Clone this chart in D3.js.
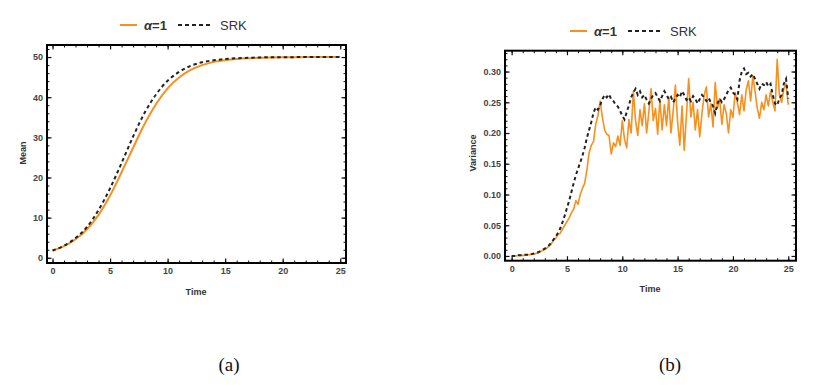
<!DOCTYPE html>
<html>
<head>
<meta charset="utf-8">
<script src="https://cdn.jsdelivr.net/npm/d3@7"></script>
<style>
  body { margin: 0; background: #fff; }
  svg { display: block; font-family: "Liberation Sans", Arial, sans-serif; }
  .tick text { font-weight: bold; fill: #444; font-size: 9px; }
</style>
</head>
<body>
<svg id="chart" width="828" height="385"></svg>
<script>
// mean, time step 1 from 0 to 25
const meanTimes = d3.range(0, 26, 1);
const meanAlpha = [1.8, 2.9, 4.6, 7.1, 10.7, 15.5, 21.3, 27.4, 33.3, 38.3, 42.2, 44.9, 46.8,
  48.0, 48.8, 49.2, 49.5, 49.7, 49.8, 49.9, 49.94, 49.96, 49.98, 49.99, 50, 50];
const meanSRK = [1.8, 3.0, 4.9, 7.7, 11.9, 17.3, 23.6, 30.2, 36.1, 40.7, 44.1, 46.3, 47.8,
  48.7, 49.2, 49.5, 49.7, 49.8, 49.9, 49.95, 49.97, 49.98, 49.99, 50, 50, 50];

// variance, time step 0.2 from 0 to 25
const varStep = 0.2;
const varAlpha = [
  0.000, 0.000, 0.000, 0.001, 0.001, 0.001, 0.001, 0.002, 0.002, 0.003,
  0.003, 0.004, 0.005, 0.007, 0.009, 0.011, 0.013, 0.016, 0.020, 0.026,
  0.029, 0.035, 0.037, 0.044, 0.050, 0.056, 0.062, 0.070, 0.076, 0.090,
  0.084, 0.100, 0.110, 0.118, 0.140, 0.168, 0.180, 0.186, 0.214, 0.228,
  0.252, 0.226, 0.205, 0.198, 0.196, 0.166, 0.184, 0.178, 0.195, 0.180,
  0.220, 0.190, 0.176, 0.222, 0.200, 0.268, 0.220, 0.196, 0.238, 0.212,
  0.248, 0.200, 0.234, 0.272, 0.220, 0.240, 0.198, 0.255, 0.205, 0.246,
  0.212, 0.258, 0.200, 0.236, 0.278, 0.218, 0.180, 0.244, 0.172, 0.230,
  0.288, 0.226, 0.250, 0.205, 0.238, 0.194, 0.232, 0.262, 0.275, 0.226,
  0.248, 0.210, 0.282, 0.240, 0.256, 0.214, 0.246, 0.232, 0.200, 0.238,
  0.225, 0.266, 0.250, 0.230, 0.262, 0.236, 0.270, 0.285, 0.252, 0.293,
  0.268, 0.240, 0.224, 0.250, 0.238, 0.262, 0.244, 0.268, 0.250, 0.236,
  0.320, 0.262, 0.250, 0.272, 0.280, 0.246];
const varSRK = [
  0.000, 0.000, 0.000, 0.001, 0.001, 0.001, 0.002, 0.002, 0.002, 0.003,
  0.004, 0.005, 0.006, 0.008, 0.010, 0.012, 0.015, 0.018, 0.022, 0.027,
  0.032, 0.038, 0.045, 0.055, 0.066, 0.078, 0.090, 0.104, 0.118, 0.131,
  0.142, 0.152, 0.163, 0.176, 0.192, 0.205, 0.218, 0.233, 0.242, 0.238,
  0.245, 0.255, 0.262, 0.258, 0.263, 0.255, 0.252, 0.246, 0.243, 0.236,
  0.228, 0.222, 0.234, 0.245, 0.258, 0.266, 0.272, 0.262, 0.268, 0.258,
  0.262, 0.254, 0.248, 0.256, 0.262, 0.265, 0.258, 0.252, 0.260, 0.268,
  0.262, 0.255, 0.259, 0.250, 0.256, 0.262, 0.258, 0.268, 0.262, 0.254,
  0.258, 0.252, 0.260, 0.256, 0.248, 0.255, 0.262, 0.258, 0.252, 0.257,
  0.250, 0.244, 0.232, 0.248, 0.256, 0.250, 0.255, 0.262, 0.270, 0.274,
  0.266, 0.262, 0.255, 0.285, 0.300, 0.305, 0.296, 0.298, 0.292, 0.296,
  0.288, 0.280, 0.272, 0.280, 0.278, 0.283, 0.276, 0.280, 0.262, 0.248,
  0.245, 0.256, 0.262, 0.280, 0.288, 0.256];

const xTicks = [0, 5, 10, 15, 20, 25];
const meanTicks = [0, 10, 20, 30, 40, 50];
const varTicks = [0, 0.05, 0.10, 0.15, 0.20, 0.25, 0.30];

const orange = "#f7901e";
const svg = d3.select("#chart");

function drawPanel(p) {
  const x = d3.scaleLinear().domain(p.xDomain).range([p.left, p.right]);
  const y = d3.scaleLinear().domain(p.yDomain).range([p.bottom, p.top]);
  const g = svg.append("g");

  // inward ticks, major and minor, on all four sides
  const sides = [
    [d3.axisBottom(x), p.bottom, true, "x"],
    [d3.axisTop(x), p.top, false, "x"],
    [d3.axisLeft(y), p.left, true, "y"],
    [d3.axisRight(y), p.right, false, "y"]
  ];
  sides.forEach(([ax, pos, labels, dim]) => {
    const major = dim === "x" ? xTicks : p.yTicks;
    const minor = dim === "x" ? d3.range(0, 26, 1) : p.yMinor;
    const tr = dim === "x" ? `translate(0,${pos})` : `translate(${pos},0)`;
    g.append("g").attr("transform", tr)
      .call(ax.tickValues(minor).tickSize(-2.5).tickFormat(""))
      .call(s => s.select(".domain").remove())
      .selectAll("line").attr("stroke", "#111");
    const ax2 = dim === "x" ? (pos === p.bottom ? d3.axisBottom(x) : d3.axisTop(x))
                            : (pos === p.left ? d3.axisLeft(y) : d3.axisRight(y));
    g.append("g").attr("transform", tr)
      .call(ax2.tickValues(major).tickSize(-4.5).tickPadding(dim === "x" ? 5 : 4)
        .tickFormat(labels ? (dim === "x" ? d3.format("d") : p.yFormat) : ""))
      .call(s => s.select(".domain").remove())
      .selectAll("line").attr("stroke", "#111").attr("stroke-width", 1.2);
  });

  const line = d3.line().x(d => x(d[0])).y(d => y(d[1])).curve(p.curve);
  g.append("path")
    .datum(p.alpha)
    .attr("fill", "none")
    .attr("stroke", orange)
    .attr("stroke-width", p.alphaWidth)
    .attr("stroke-linejoin", "round")
    .attr("d", line);
  g.append("path")
    .datum(p.srk)
    .attr("fill", "none")
    .attr("stroke", "#222")
    .attr("stroke-width", 2)
    .attr("stroke-dasharray", "3.5,3")
    .attr("d", line);

  g.append("rect")
    .attr("x", p.left).attr("y", p.top)
    .attr("width", p.right - p.left).attr("height", p.bottom - p.top)
    .attr("fill", "none").attr("stroke", "#000").attr("stroke-width", 2);

  g.append("text")
    .attr("x", p.timeX).attr("y", p.timeY)
    .attr("text-anchor", "middle")
    .attr("font-size", 9).attr("font-weight", "bold").attr("fill", "#333")
    .text("Time");
  g.append("text")
    .attr("transform", `translate(${p.ylabX},${p.ylabY}) rotate(-90)`)
    .attr("text-anchor", "middle")
    .attr("font-size", 9).attr("font-weight", "bold").attr("fill", "#333")
    .text(p.yLabel);

  // legend
  const lg = g.append("g").attr("transform", `translate(${p.legX},${p.legY})`);
  lg.append("line").attr("x1", 0).attr("x2", 17).attr("y1", 0).attr("y2", 0)
    .attr("stroke", orange).attr("stroke-width", 2);
  const t1 = lg.append("text").attr("x", 24).attr("y", 4.5)
    .attr("font-size", 13).attr("fill", "#333");
  t1.append("tspan").attr("font-style", "italic").attr("font-weight", "bold").text("α");
  t1.append("tspan").attr("font-weight", "bold").text("=1");
  lg.append("line").attr("x1", 58).attr("x2", 91).attr("y1", 0).attr("y2", 0)
    .attr("stroke", "#222").attr("stroke-width", 2).attr("stroke-dasharray", "4,3");
  lg.append("text").attr("x", 100).attr("y", 4.5)
    .attr("font-size", 13).attr("fill", "#333").text("SRK");

  svg.append("text")
    .attr("x", p.capX).attr("y", 371)
    .attr("text-anchor", "middle")
    .attr("font-family", "Liberation Serif, Times New Roman, serif")
    .attr("font-size", 19).attr("fill", "#111")
    .text(p.caption);
}

drawPanel({
  left: 47, right: 346, top: 45, bottom: 263,
  xDomain: [-0.48, 25.5], yDomain: [-1.3, 53],
  yTicks: meanTicks, yMinor: d3.range(0, 53, 2), yFormat: d3.format("d"),
  alpha: meanTimes.map((t, i) => [t, meanAlpha[i]]),
  srk: meanTimes.map((t, i) => [t, meanSRK[i]]),
  curve: d3.curveMonotoneX, alphaWidth: 2,
  yLabel: "Mean", ylabX: 26, ylabY: 153, timeX: 196, timeY: 295,
  legX: 120, legY: 25, capX: 229, caption: "(a)"
});

drawPanel({
  left: 505, right: 796, top: 50.7, bottom: 260.7,
  xDomain: [-0.6, 25.7], yDomain: [-0.0077, 0.3339],
  yTicks: varTicks, yMinor: d3.range(0, 0.335, 0.01), yFormat: d3.format(".2f"),
  alpha: varAlpha.map((v, i) => [i * varStep, v]),
  srk: varSRK.map((v, i) => [i * varStep, v]),
  curve: d3.curveLinear, alphaWidth: 1.6,
  yLabel: "Variance", ylabX: 476, ylabY: 153, timeX: 650, timeY: 292,
  legX: 570, legY: 31, capX: 670, caption: "(b)"
});
</script>
</body>
</html>
